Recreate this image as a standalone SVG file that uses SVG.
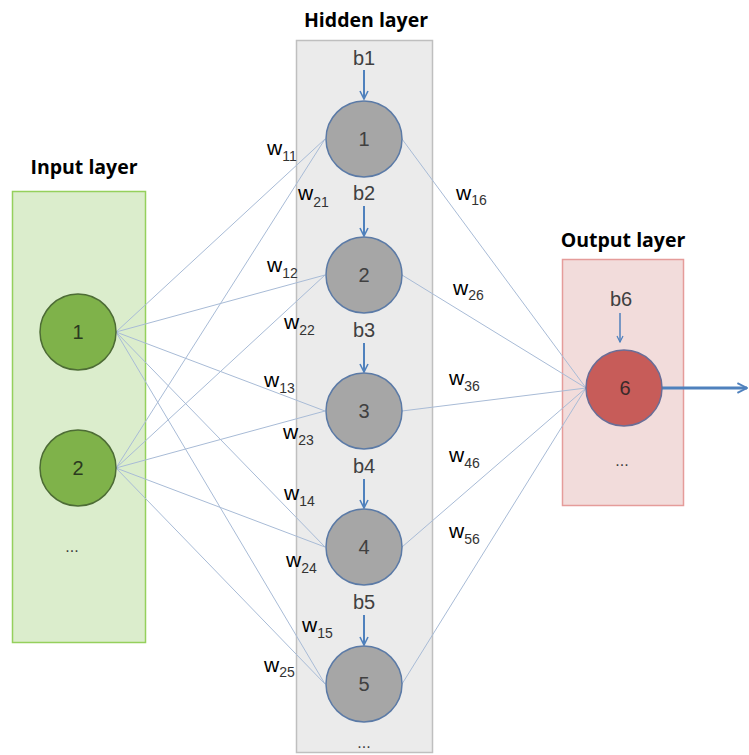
<svg xmlns="http://www.w3.org/2000/svg" width="749" height="755" viewBox="0 0 749 755">
<defs>
<style>
.title{font-family:"Open Sans","Liberation Sans",sans-serif;font-weight:bold;font-size:19.5px;fill:#000;text-anchor:middle}
.lbl{font-family:"Liberation Sans",sans-serif;font-size:20px;fill:#404040;text-anchor:middle}
.w{font-family:"Liberation Sans",sans-serif;font-size:21px;fill:#000}
.w tspan.s{font-size:14px;fill:#333}
.conn{stroke:#a8bbd6;stroke-width:1;fill:none}
.bias{stroke:#4f81bd;stroke-width:2;fill:none}
.hid{fill:#a6a6a6;stroke:#5b7aa6;stroke-width:1.5}
.inp{fill:#7fb24a;stroke:#4d6c35;stroke-width:1.5}
</style>
<marker id="ah" viewBox="0 0 10 10" refX="9" refY="5" markerWidth="5" markerHeight="5" orient="auto" markerUnits="strokeWidth">
<path d="M1,1 L9,5 L1,9" fill="none" stroke="#4f81bd" stroke-width="1.6"/>
</marker>
<marker id="ah2" viewBox="0 0 10 10" refX="9" refY="5" markerWidth="4" markerHeight="4" orient="auto" markerUnits="strokeWidth">
<path d="M1,1 L9,5 L1,9" fill="none" stroke="#4f81bd" stroke-width="1.6"/>
</marker>
</defs>
<rect width="749" height="755" fill="#fff"/>
<g id="input-layer">
<rect x="12.5" y="191.5" width="133" height="451" fill="#dbedcc" stroke="#95d05c" stroke-width="1.5"/>
<text class="title" x="84" y="174">Input layer</text>
<text class="lbl" x="72" y="552" style="font-size:16px">...</text>
</g>
<g id="hidden-layer">
<rect x="296.5" y="40.5" width="136" height="712" fill="#ebebeb" stroke="#bfbfbf" stroke-width="1.5"/>
<text class="title" x="366" y="27">Hidden layer</text>
<text class="lbl" x="364" y="748" style="font-size:16px">...</text>
</g>
<g id="output-layer">
<rect x="562.5" y="259.5" width="121" height="246" fill="#f2dcdb" stroke="#e59c9a" stroke-width="1.5"/>
<text class="title" x="623" y="247">Output layer</text>
<text class="lbl" x="622" y="466" style="font-size:16px">...</text>
</g>
<g id="connectors">
<line class="conn" x1="116" y1="332" x2="325" y2="139"/>
<line class="conn" x1="116" y1="332" x2="325" y2="275"/>
<line class="conn" x1="116" y1="332" x2="325" y2="411"/>
<line class="conn" x1="116" y1="332" x2="325" y2="547"/>
<line class="conn" x1="116" y1="332" x2="325" y2="684"/>
<line class="conn" x1="116" y1="468" x2="325" y2="139"/>
<line class="conn" x1="116" y1="468" x2="325" y2="275"/>
<line class="conn" x1="116" y1="468" x2="325" y2="411"/>
<line class="conn" x1="116" y1="468" x2="325" y2="547"/>
<line class="conn" x1="116" y1="468" x2="325" y2="684"/>
<line class="conn" x1="402" y1="139" x2="586" y2="388"/>
<line class="conn" x1="402" y1="275" x2="586" y2="388"/>
<line class="conn" x1="402" y1="411" x2="586" y2="388"/>
<line class="conn" x1="402" y1="547" x2="586" y2="388"/>
<line class="conn" x1="402" y1="684" x2="586" y2="388"/>
<line class="bias" x1="364" y1="70" x2="364" y2="99" marker-end="url(#ah)"/>
<line class="bias" x1="364" y1="206" x2="364" y2="236" marker-end="url(#ah)"/>
<line class="bias" x1="364" y1="343" x2="364" y2="372" marker-end="url(#ah)"/>
<line class="bias" x1="364" y1="479" x2="364" y2="508" marker-end="url(#ah)"/>
<line class="bias" x1="364" y1="615" x2="364" y2="645" marker-end="url(#ah)"/>
<line class="bias" x1="620" y1="313" x2="620" y2="342" style="stroke-width:1.5" marker-end="url(#ah)"/>
<line class="bias" x1="662" y1="388" x2="747" y2="388" style="stroke-width:3" marker-end="url(#ah2)"/>
</g>
<g id="in1"><circle class="inp" cx="78" cy="332" r="38"/><text class="lbl" x="78" y="339" style="fill:#2b3a1f">1</text></g>
<g id="in2"><circle class="inp" cx="78" cy="468" r="38"/><text class="lbl" x="78" y="475" style="fill:#2b3a1f">2</text></g>
<g id="h1"><circle class="hid" cx="364" cy="139" r="38"/><text class="lbl" x="364" y="146">1</text><text class="lbl" x="364" y="65">b1</text></g>
<g id="h2"><circle class="hid" cx="364" cy="275" r="38"/><text class="lbl" x="364" y="282">2</text><text class="lbl" x="364" y="200">b2</text></g>
<g id="h3"><circle class="hid" cx="364" cy="411" r="38"/><text class="lbl" x="364" y="418">3</text><text class="lbl" x="364" y="337">b3</text></g>
<g id="h4"><circle class="hid" cx="364" cy="547" r="38"/><text class="lbl" x="364" y="554">4</text><text class="lbl" x="364" y="473">b4</text></g>
<g id="h5"><circle class="hid" cx="364" cy="684" r="38"/><text class="lbl" x="364" y="691">5</text><text class="lbl" x="364" y="609">b5</text></g>
<g id="out6"><circle cx="624" cy="388" r="38" fill="#c75c59" stroke="#6a6d96" stroke-width="1.5"/><text class="lbl" x="625" y="395" style="fill:#3a2a2a">6</text><text class="lbl" x="621" y="306">b6</text></g>
<g id="weights">
<text class="w" x="267" y="155">w<tspan class="s" dy="6">11</tspan></text>
<text class="w" x="298" y="200">w<tspan class="s" dy="7">21</tspan></text>
<text class="w" x="267" y="272">w<tspan class="s" dy="6">12</tspan></text>
<text class="w" x="284" y="329">w<tspan class="s" dy="6">22</tspan></text>
<text class="w" x="264" y="387">w<tspan class="s" dy="6">13</tspan></text>
<text class="w" x="283" y="439">w<tspan class="s" dy="6">23</tspan></text>
<text class="w" x="284" y="500">w<tspan class="s" dy="6">14</tspan></text>
<text class="w" x="286" y="567">w<tspan class="s" dy="6">24</tspan></text>
<text class="w" x="302" y="632">w<tspan class="s" dy="6">15</tspan></text>
<text class="w" x="264" y="672">w<tspan class="s" dy="5">25</tspan></text>
<text class="w" x="456" y="200">w<tspan class="s" dy="5">16</tspan></text>
<text class="w" x="453" y="295">w<tspan class="s" dy="5">26</tspan></text>
<text class="w" x="449" y="385">w<tspan class="s" dy="6">36</tspan></text>
<text class="w" x="449" y="462">w<tspan class="s" dy="6">46</tspan></text>
<text class="w" x="449" y="538">w<tspan class="s" dy="6">56</tspan></text>
</g>
</svg>
